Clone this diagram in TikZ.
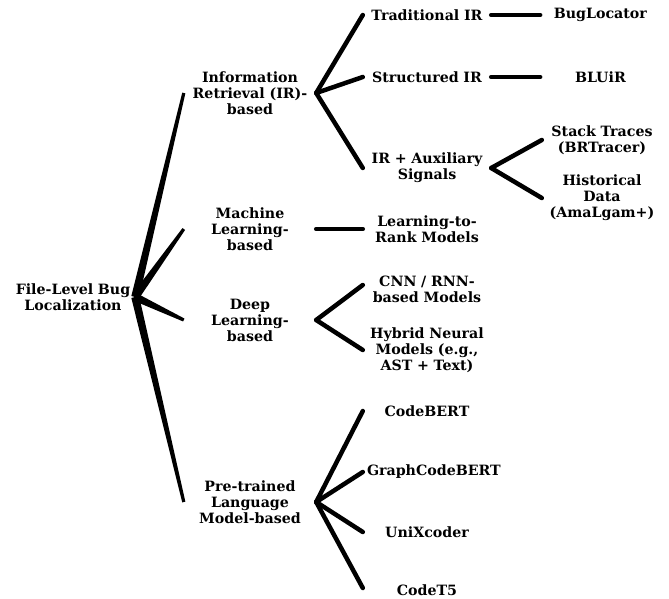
\documentclass[tikz,border=0pt]{standalone}
\usepackage{fontspec}
\setmainfont{DejaVu Serif}
\usepackage{tikz}
\usetikzlibrary{positioning,calc}
\tikzset{
  treetext/.style={align=center, inner sep=0pt, font=\bfseries\fontsize{14.2}{16}\selectfont},
  rootbox/.style={treetext, text width=124pt},
  catbox/.style={treetext, text width=132pt},
  subbox/.style={treetext, text width=128pt},
  leafbox/.style={treetext, text width=120pt},
  branch/.style={line width=4.5pt, line cap=round},
}

\begin{document}
\begin{tikzpicture}[x=1pt, y=-1pt, node distance=49pt]
  \path[fill=white, use as bounding box] (0,0) rectangle (669,598);
  \node[rootbox] (root) at (73,297) {File-Level Bug\\Localization};
  \node[catbox] (ir) at (250,93) {Information\\Retrieval (IR)-\\based};
  \node[catbox] (ml) at (250,229) {Machine\\Learning-\\based};
  \node[catbox] (dl) at (250,320) {Deep\\Learning-\\based};
  \node[catbox] (plm) at (250,502) {Pre-trained\\Language\\Model-based};
  \node[subbox] (trad) at (427,15) {Traditional IR};
  \node[subbox] (struct) at (427,77) {Structured IR};
  \node[subbox] (aux) at (427,168) {IR + Auxiliary\\Signals};
  \node[subbox] (ltr) at (427,229) {Learning-to-\\Rank Models};
  \node[subbox] (cnn) at (427,289) {CNN / RNN-\\based Models};
  \node[subbox] (hybrid) at (427,350) {Hybrid Neural\\Models (e.g.,\\AST + Text)};
  \node[subbox] (codebert) at (427,411) {CodeBERT};
  \node[subbox, align=left] (graphcb) at (427,472) {\hspace*{4pt}\mbox{GraphCodeBERT}};
  \node[subbox] (unix) at (427,532) {UniXcoder};
  \node[subbox] (codet5) at (427,590) {CodeT5};
  \node[leafbox, right=of trad] (bugloc) {BugLocator};
  \node[leafbox, right=of struct] (bluir) {BLUiR};
  \node[leafbox] (stack) at (602,140) {Stack Traces\\(BRTracer)};
  \node[leafbox] (hist) at (602,198) {Historical\\Data\\(AmaLgam+)};
  \foreach \c in {ir,ml,dl,plm}
    \fill ($(root.east)!4pt!90:(\c.west)$) -- ($(\c.west)!1.6pt!-90:(root.east)$)
      -- ($(\c.west)!1.6pt!90:(root.east)$) -- ($(root.east)!4pt!-90:(\c.west)$) -- cycle;
  \draw[branch] (ir.east) -- (trad.west);
  \draw[branch] (ir.east) -- (struct.west);
  \draw[branch] (ir.east) -- (aux.west);
  \draw[branch] (trad) -- (bugloc);
  \draw[branch] (struct) -- (bluir);
  \draw[branch] (aux.east) -- (stack.west);
  \draw[branch] (aux.east) -- (hist.west);
  \draw[branch] (ml.east) -- (ltr.west);
  \draw[branch] (dl.east) -- ([yshift=4pt]cnn.west);
  \draw[branch] (dl.east) -- (hybrid.west);
  \draw[branch] (plm.east) -- (codebert.west);
  \draw[branch] (plm.east) -- (graphcb.west);
  \draw[branch] (plm.east) -- (unix.west);
  \draw[branch] (plm.east) -- ([yshift=2pt]codet5.west);
\end{tikzpicture}
\end{document}
